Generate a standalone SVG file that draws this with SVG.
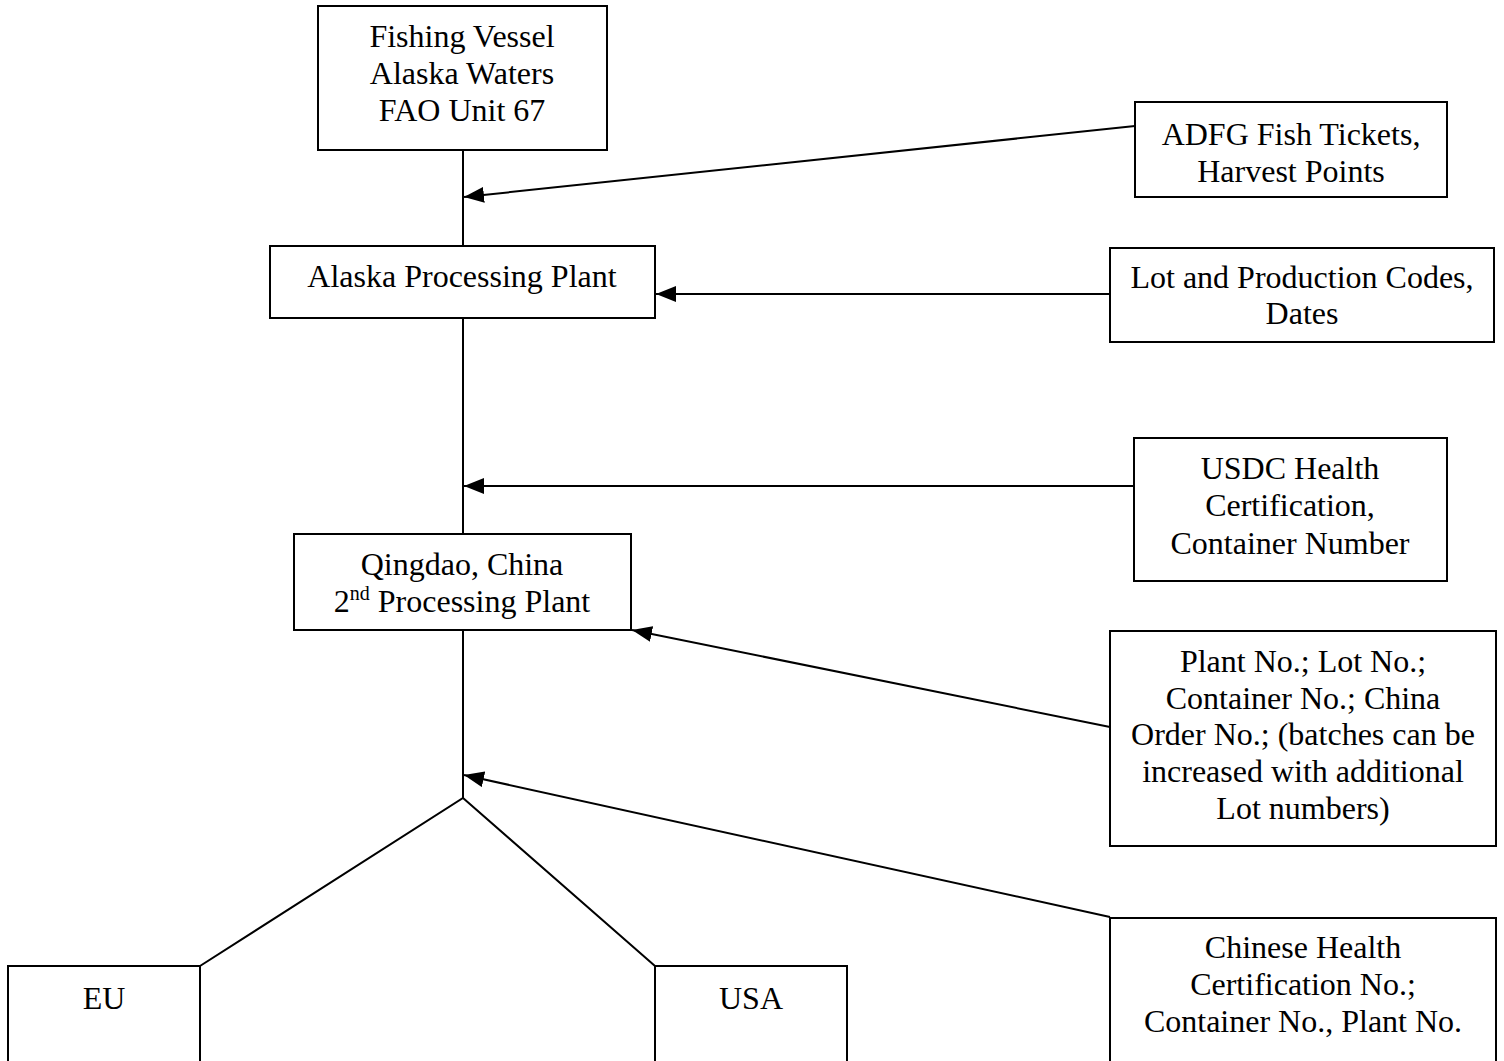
<svg xmlns="http://www.w3.org/2000/svg" width="1504" height="1061" viewBox="0 0 1504 1061">
<style>
.box{fill:#fff;stroke:#000;stroke-width:2}
.ln{fill:none;stroke:#000;stroke-width:2}
.arr{fill:none;stroke:#000;stroke-width:2;marker-end:url(#ah)}
text{font-family:"Liberation Serif","Times New Roman",serif;font-size:32px;fill:#000;text-anchor:middle}
</style>
<defs>
<marker id="ah" markerUnits="userSpaceOnUse" markerWidth="20" markerHeight="16" viewBox="0 0 20 16" refX="20" refY="8" orient="auto">
<path d="M0,0 L20,8 L0,16 Z" fill="#000"/>
</marker>
</defs>
<rect width="1504" height="1061" fill="#fff"/>
<g id="connectors">
<line class="ln" x1="463" y1="150" x2="463" y2="246"/>
<line class="ln" x1="463" y1="318" x2="463" y2="534"/>
<line class="ln" x1="463" y1="630" x2="463" y2="798"/>
<polyline class="ln" points="200,966 463,798 655,966"/>
<line class="arr" x1="1135" y1="126" x2="464" y2="197"/>
<line class="arr" x1="1110" y1="294" x2="656" y2="294"/>
<line class="arr" x1="1134" y1="486" x2="464" y2="486"/>
<line class="arr" x1="1110" y1="727" x2="632" y2="630"/>
<line class="arr" x1="1110" y1="917" x2="464" y2="775"/>
</g>
<g id="vessel">
<rect class="box" x="318" y="6" width="289" height="144"/>
<text x="462" y="47">Fishing Vessel</text>
<text x="462" y="84">Alaska Waters</text>
<text x="462" y="121">FAO Unit 67</text>
</g>
<g id="alaska-plant">
<rect class="box" x="270" y="246" width="385" height="72"/>
<text x="462" y="287">Alaska Processing Plant</text>
</g>
<g id="qingdao">
<rect class="box" x="294" y="534" width="337" height="96"/>
<text x="462" y="575">Qingdao, China</text>
<text x="462" y="612">2<tspan font-size="20" dy="-12">nd</tspan><tspan dy="12"> Processing Plant</tspan></text>
</g>
<g id="eu">
<rect class="box" x="8" y="966" width="192" height="110"/>
<text x="104" y="1009">EU</text>
</g>
<g id="usa">
<rect class="box" x="655" y="966" width="192" height="110"/>
<text x="751" y="1009">USA</text>
</g>
<g id="adfg">
<rect class="box" x="1135" y="102" width="312" height="95"/>
<text x="1291" y="145">ADFG Fish Tickets,</text>
<text x="1291" y="182">Harvest Points</text>
</g>
<g id="lot">
<rect class="box" x="1110" y="248" width="384" height="94"/>
<text x="1302" y="288">Lot and Production Codes,</text>
<text x="1302" y="324">Dates</text>
</g>
<g id="usdc">
<rect class="box" x="1134" y="438" width="313" height="143"/>
<text x="1290" y="479">USDC Health</text>
<text x="1290" y="516">Certification,</text>
<text x="1290" y="554">Container Number</text>
</g>
<g id="plantno">
<rect class="box" x="1110" y="631" width="386" height="215"/>
<text x="1303" y="672">Plant No.; Lot No.;</text>
<text x="1303" y="709">Container No.; China</text>
<text x="1303" y="745">Order No.; (batches can be</text>
<text x="1303" y="782">increased with additional</text>
<text x="1303" y="819">Lot numbers)</text>
</g>
<g id="chinese">
<rect class="box" x="1110" y="918" width="386" height="160"/>
<text x="1303" y="958">Chinese Health</text>
<text x="1303" y="995">Certification No.;</text>
<text x="1303" y="1032">Container No., Plant No.</text>
</g>
</svg>
